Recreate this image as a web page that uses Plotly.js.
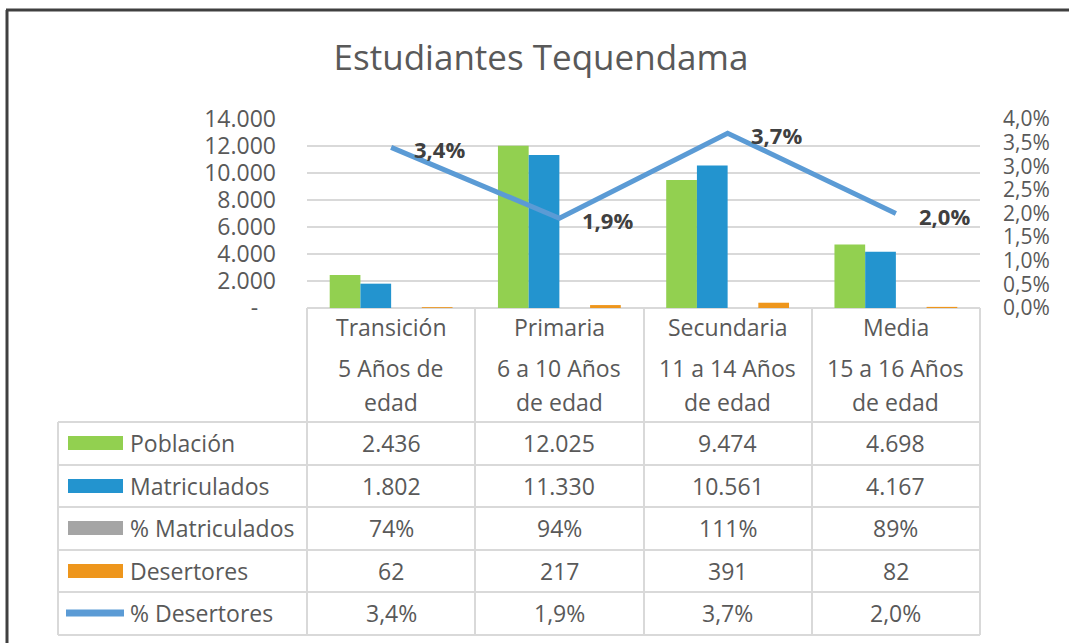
<!DOCTYPE html>
<html>
<head>
<meta charset="utf-8">
<script src="https://cdn.plot.ly/plotly-3.0.1.min.js"></script>
<style>
  html, body { margin: 0; padding: 0; background: #ffffff; }
  #chart { width: 1069px; height: 643px; }
</style>
</head>
<body>
<div id="chart"></div>
<script>
// ---------- DATA ----------
const categories = ['Transición', 'Primaria', 'Secundaria', 'Media'];
const ageLine1 = ['5 Años de', '6 a 10 Años', '11 a 14 Años', '15 a 16 Años'];
const ageLine2 = ['edad', 'de edad', 'de edad', 'de edad'];
const poblacion = [2436, 12025, 9474, 4698];
const matriculados = [1802, 11330, 10561, 4167];
const pctMatriculados = [0.74, 0.94, 1.11, 0.89];
const desertores = [62, 217, 391, 82];
const pctDesertores = [0.034, 0.019, 0.037, 0.020];
const leftTickVals = [0, 2000, 4000, 6000, 8000, 10000, 12000, 14000];
const leftTickText = ['-\u00a0\u00a0\u00a0', '2.000', '4.000', '6.000', '8.000', '10.000', '12.000', '14.000'];
const seriesNames = ['Población', 'Matriculados', '% Matriculados', 'Desertores', '% Desertores'];

// ---------- LAYOUT GEOMETRY (pixels) ----------
const W = 1069, H = 643;
const PL = 307, PR = 980, PT = 119, PB = 308;
const pw = PR - PL, ph = PB - PT;
const px = x => (x - PL) / pw;
const py = y => (PB - y) / ph;

const FONT = '"Open Sans", sans-serif';
const TXT = '#595959';
const GRID = '#D9D9D9';
const colors = ['#92D050', '#2394CF', '#A5A5A5', '#EE961C', '#5B9BD5'];

// formatting helpers
const fmtInt = n => String(n).replace(/\B(?=(\d{3})+(?!\d))/g, '.');
const fmtPct0 = v => Math.round(v * 100) + '%';
const fmtPct1 = v => (v * 100).toFixed(1).replace('.', ',') + '%';

// ---------- TRACES ----------
const barSeries = [poblacion, matriculados, pctMatriculados, desertores];
const traces = barSeries.map((vals, i) => ({
  type: 'bar', x: categories, y: vals, name: seriesNames[i],
  marker: { color: colors[i] }, hoverinfo: 'skip'
}));
traces.push({
  type: 'scatter', mode: 'lines', x: categories, y: pctDesertores, yaxis: 'y2',
  name: seriesNames[4], line: { color: colors[4], width: 5 }, hoverinfo: 'skip'
});

// ---------- TABLE (shapes + annotations) ----------
const rowLines = [422, 465, 507, 550, 592, 635];
const rowCenters = [443, 486, 528, 571, 613];
const colLines = [307, 475, 644, 812, 980];
const lineStyle = { color: GRID, width: 2 };

const shapes = [];
rowLines.forEach(y => shapes.push({ type: 'line', xref: 'paper', yref: 'paper',
  x0: px(58), x1: px(980), y0: py(y), y1: py(y), line: lineStyle, layer: 'below' }));
shapes.push({ type: 'line', xref: 'paper', yref: 'paper', x0: px(307), x1: px(980),
  y0: py(308), y1: py(308), line: lineStyle, layer: 'below' });
colLines.forEach(x => shapes.push({ type: 'line', xref: 'paper', yref: 'paper',
  x0: px(x), x1: px(x), y0: py(308), y1: py(635), line: lineStyle, layer: 'below' }));
shapes.push({ type: 'line', xref: 'paper', yref: 'paper', x0: px(58), x1: px(58),
  y0: py(422), y1: py(635), line: lineStyle, layer: 'below' });
for (let i = 0; i < 4; i++) {
  shapes.push({ type: 'rect', xref: 'paper', yref: 'paper',
    x0: px(68), x1: px(123), y0: py(rowCenters[i] - 7), y1: py(rowCenters[i] + 7),
    fillcolor: colors[i], line: { width: 0 } });
}
shapes.push({ type: 'line', xref: 'paper', yref: 'paper',
  x0: px(66), x1: px(124), y0: py(rowCenters[4]), y1: py(rowCenters[4]),
  line: { color: colors[4], width: 7 } });
// outer chart frame (left and top)
shapes.push({ type: 'line', xref: 'paper', yref: 'paper', x0: px(7), x1: px(7),
  y0: py(10), y1: py(660), line: { color: '#404040', width: 3 } });
shapes.push({ type: 'line', xref: 'paper', yref: 'paper', x0: px(6), x1: px(1080),
  y0: py(10), y1: py(10), line: { color: '#404040', width: 3 } });

const annotations = [];
const tfont = { family: FONT, size: 23, color: TXT };
categories.forEach((c, i) => {
  annotations.push({ xref: 'x', yref: 'paper', x: c, y: py(327), text: c,
    showarrow: false, xanchor: 'center', yanchor: 'middle', font: tfont });
  annotations.push({ xref: 'x', yref: 'paper', x: c, y: py(368), text: ageLine1[i],
    showarrow: false, xanchor: 'center', yanchor: 'middle', font: tfont });
  annotations.push({ xref: 'x', yref: 'paper', x: c, y: py(402), text: ageLine2[i],
    showarrow: false, xanchor: 'center', yanchor: 'middle', font: tfont });
});
seriesNames.forEach((n, r) => {
  annotations.push({ xref: 'paper', yref: 'paper', x: px(128), y: py(rowCenters[r]), text: n,
    showarrow: false, xanchor: 'left', yanchor: 'middle', font: tfont });
});
const rows = [
  poblacion.map(fmtInt),
  matriculados.map(fmtInt),
  pctMatriculados.map(fmtPct0),
  desertores.map(fmtInt),
  pctDesertores.map(fmtPct1)
];
rows.forEach((vals, r) => vals.forEach((v, i) => {
  annotations.push({ xref: 'x', yref: 'paper', x: categories[i], y: py(rowCenters[r]), text: v,
    showarrow: false, xanchor: 'center', yanchor: 'middle', font: tfont });
}));
pctDesertores.forEach((v, i) => {
  annotations.push({ xref: 'x', yref: 'y2', x: categories[i], y: v, text: '<b>' + fmtPct1(v) + '</b>',
    showarrow: false, xanchor: 'left', yanchor: 'middle', xshift: 21, yshift: -2,
    font: { family: FONT, size: 22, color: '#404040' } });
});

const layout = {
  width: W, height: H, autosize: false,
  margin: { l: PL, r: W - PR, t: PT, b: H - PB, pad: 0 },
  paper_bgcolor: '#ffffff', plot_bgcolor: '#ffffff',
  separators: ',.',
  showlegend: false,
  barmode: 'group', bargap: 0.27, bargroupgap: 0,
  title: { text: 'Estudiantes Tequendama', xref: 'container', yref: 'container',
    x: 541 / W, y: 1 - 58 / H, xanchor: 'center', yanchor: 'middle',
    font: { family: FONT, size: 35, color: TXT } },
  font: { family: FONT, color: TXT },
  xaxis: { type: 'category', showticklabels: false, showgrid: false, zeroline: false,
    showline: false, ticks: '', fixedrange: true },
  yaxis: { range: [0, 14000], tickvals: leftTickVals, ticktext: leftTickText,
    showgrid: true, gridcolor: GRID, gridwidth: 2, zeroline: false, showline: false,
    ticks: '', ticklabelstandoff: 30, tickfont: { family: FONT, size: 23, color: TXT },
    fixedrange: true },
  yaxis2: { overlaying: 'y', side: 'right', range: [0, 0.04], dtick: 0.005, tick0: 0,
    tickformat: '.1%', showgrid: false, zeroline: false, showline: false, ticks: '',
    ticklabelstandoff: 22, tickfont: { family: FONT, size: 21, color: TXT }, fixedrange: true },
  shapes: shapes,
  annotations: annotations
};

Plotly.newPlot('chart', traces, layout, { displayModeBar: false, staticPlot: true });
</script>
</body>
</html>
